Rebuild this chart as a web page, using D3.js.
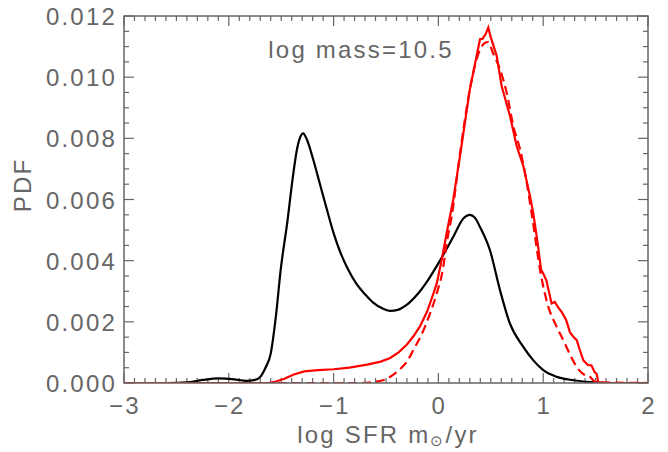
<!DOCTYPE html>
<html><head><meta charset="utf-8">
<script src="https://cdn.jsdelivr.net/npm/d3@7"></script>
<style>body{margin:0;background:#fff}svg{display:block}text{font-family:"Liberation Sans",Arial,sans-serif;fill:#666}</style>
</head><body><svg id="c" width="668" height="452"></svg>
<script>
const xTicks = [-3,-2,-1,0,1,2];
const yTicks = [0,0.002,0.004,0.006,0.008,0.010,0.012];
const yTickLabels = ["0.000","0.002","0.004","0.006","0.008","0.010","0.012"];
const annotation = "log mass=10.5";

const blackX = [-3.0,-2.6,-2.4,-2.25,-2.1,-1.95,-1.83,-1.75,-1.70,-1.65,-1.60,-1.55,-1.505,-1.44,-1.394,-1.346,-1.31,-1.29,-1.26,-1.194,-1.13,-1.066,-1.0,-0.939,-0.86,-0.78,-0.70,-0.62,-0.54,-0.462,-0.38,-0.30,-0.20,-0.112,0.015,0.142,0.238,0.30,0.35,0.397,0.492,0.588,0.683,0.81,0.906,1.001,1.13,1.29,1.45,1.6,2.0];
const blackY = [0,0,0.00002,0.0001,0.00015,0.00012,0.00007,0.0001,0.0002,0.0005,0.00096,0.0022,0.0037,0.0053,0.0066,0.0077,0.0081,0.00816,0.0080,0.0073,0.0065,0.0057,0.0049,0.0043,0.0037,0.00323,0.0029,0.00262,0.00245,0.00236,0.0024,0.00256,0.0029,0.0033,0.0040,0.00478,0.00538,0.0055,0.0054,0.0051,0.00434,0.00303,0.00194,0.00118,0.00074,0.00042,0.0002,0.00009,0.00003,0,0];

const redX = [-3.0,-1.62,-1.55,-1.47,-1.38,-1.28,-1.15,-1.0,-0.85,-0.68,-0.55,-0.46,-0.38,-0.30,-0.24,-0.176,-0.11,-0.08,-0.016,0.031,0.078,0.142,0.206,0.30,0.397,0.42,0.45,0.476,0.50,0.556,0.604,0.683,0.747,0.81,0.874,0.906,0.95,0.98,1.0,1.03,1.08,1.11,1.14,1.18,1.22,1.256,1.29,1.32,1.35,1.383,1.415,1.43,1.46,1.49,1.51,1.525,1.55,2.0];
const redY = [0,0,0.00005,0.00014,0.00028,0.00038,0.00042,0.00045,0.0005,0.0006,0.0007,0.00082,0.001,0.00126,0.00152,0.00185,0.00232,0.0026,0.00325,0.00402,0.00489,0.006,0.00742,0.0096,0.01124,0.01125,0.0114,0.01162,0.0113,0.0107,0.0097,0.00873,0.00775,0.0071,0.00611,0.00554,0.0045,0.0037,0.00358,0.00336,0.0026,0.00265,0.00249,0.0023,0.00205,0.00165,0.0015,0.0014,0.00107,0.00074,0.00063,0.00058,0.00058,0.00036,0.0003,0.00003,0,0];

const dashX = [-3.0,-0.75,-0.6,-0.49,-0.42,-0.366,-0.30,-0.24,-0.143,-0.08,-0.016,0.047,0.078,0.126,0.206,0.30,0.397,0.45,0.476,0.52,0.588,0.651,0.715,0.779,0.843,0.89,0.976,1.049,1.12,1.192,1.26,1.32,1.38,1.447,1.5,2.0];
const dashY = [0,0,0.00004,0.00014,0.0003,0.00045,0.0007,0.00107,0.00172,0.00227,0.00293,0.0038,0.00456,0.00543,0.0075,0.0096,0.0109,0.01113,0.01115,0.0108,0.01025,0.0095,0.0084,0.00764,0.00655,0.00554,0.00358,0.00249,0.0019,0.0014,0.0009,0.00052,0.0003,0.0002,0.00003,0];

const L=124,R=648,T=16,B=383;
const svg=d3.select("#c");
const x=d3.scaleLinear().domain([-3,2]).range([L,R]);
const y=d3.scaleLinear().domain([0,0.012]).range([B,T]);
const axisCol="#666";

const g=svg.append("g");
svg.append("clipPath").attr("id","clip").append("rect").attr("x",L).attr("y",T-2).attr("width",R-L).attr("height",B-T+2);

const xMinor=d3.range(-30,21).map(d=>d/10);
const yMinor=d3.range(0,25).map(d=>d*0.0005);
const t=g.append("g").attr("stroke",axisCol).attr("stroke-width",1.2);
xMinor.forEach(v=>{
  const major=Math.abs(v-Math.round(v))<1e-9;
  const len=major?10:5;
  t.append("line").attr("x1",x(v)).attr("x2",x(v)).attr("y1",B).attr("y2",B-len);
  t.append("line").attr("x1",x(v)).attr("x2",x(v)).attr("y1",T).attr("y2",T+len);
});
yMinor.forEach((v,i)=>{
  const major=i%4===0;
  const len=major?10:5;
  t.append("line").attr("y1",y(v)).attr("y2",y(v)).attr("x1",L).attr("x2",L+len);
  t.append("line").attr("y1",y(v)).attr("y2",y(v)).attr("x1",R).attr("x2",R-len);
});

const ln=d3.line().x(d=>x(d[0])).y(d=>y(d[1]));
const zip=(a,b)=>a.map((v,i)=>[v,b[i]]);
const plot=svg.append("g").attr("clip-path","url(#clip)");
plot.append("path").attr("d",ln.curve(d3.curveMonotoneX)(zip(blackX,blackY))).attr("fill","none").attr("stroke","#000").attr("stroke-width",2.2);
plot.append("path").attr("d",ln.curve(d3.curveMonotoneX)(zip(dashX,dashY))).attr("fill","none").attr("stroke","#f00").attr("stroke-width",2.2).attr("stroke-dasharray","9,5");
plot.append("path").attr("d",ln.curve(d3.curveLinear)(zip(redX,redY))).attr("fill","none").attr("stroke","#f00").attr("stroke-width",2.2);

svg.append("rect").attr("x",L).attr("y",T).attr("width",R-L).attr("height",B-T).attr("fill","none").attr("stroke",axisCol).attr("stroke-width",1.5);

const fs=24, ls="2.2px";
yTicks.forEach((v,i)=>{
  svg.append("text").attr("x",L-7).attr("y",y(v)+9).attr("text-anchor","end").attr("font-size",fs).attr("letter-spacing",ls).text(yTickLabels[i]);
});
xTicks.forEach(v=>{
  svg.append("text").attr("x",x(v)+1).attr("y",B+31).attr("text-anchor","middle").attr("font-size",fs).attr("letter-spacing",ls).text(v<0?"\u2212"+Math.abs(v):String(v));
});
const xt=svg.append("text").attr("x",388).attr("y",443).attr("text-anchor","middle").attr("font-size",fs).attr("letter-spacing",ls);
xt.append("tspan").text("log SFR m");
xt.append("tspan").attr("font-size",15).attr("dy",3).text("\u2299");
xt.append("tspan").attr("dy",-3).text("/yr");
svg.append("text").attr("transform","translate(31,185) rotate(-90)").attr("text-anchor","middle").attr("font-size",fs).attr("letter-spacing",ls).text("PDF");
svg.append("text").attr("x",361).attr("y",58).attr("text-anchor","middle").attr("font-size",fs).attr("letter-spacing",ls).text(annotation);
</script></body></html>
